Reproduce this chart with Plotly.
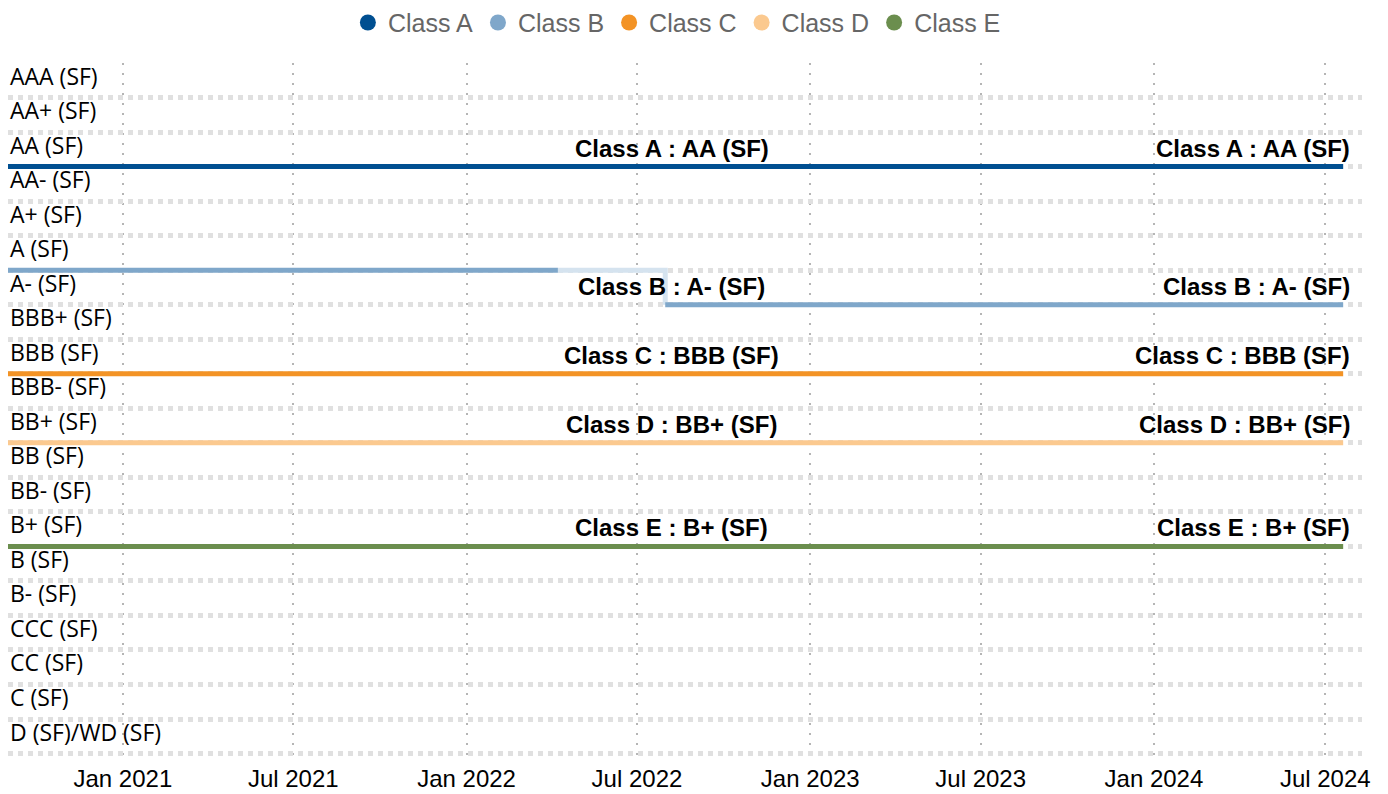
import plotly.graph_objects as go
import pandas as pd

# Rating scale (top to bottom)
ratings = ["AAA (SF)", "AA+ (SF)", "AA (SF)", "AA- (SF)", "A+ (SF)", "A (SF)", "A- (SF)",
           "BBB+ (SF)", "BBB (SF)", "BBB- (SF)", "BB+ (SF)", "BB (SF)", "BB- (SF)",
           "B+ (SF)", "B (SF)", "B- (SF)", "CCC (SF)", "CC (SF)", "C (SF)", "D (SF)/WD (SF)"]

classes = ["Class A", "Class B", "Class C", "Class D", "Class E"]
colors = ["#004f91", "#7fa7ca", "#f39325", "#fbc98f", "#6b8e4e"]

start_date = "2020-09-01"
end_date = "2024-07-20"

class_a_dates = [start_date, end_date]
class_a_ratings = ["AA (SF)", "AA (SF)"]

class_b_dates = [start_date, "2022-04-08", None, "2022-07-31", end_date]
class_b_ratings = ["A (SF)", "A (SF)", None, "A- (SF)", "A- (SF)"]

class_b_trans_dates = ["2022-04-08", "2022-07-31", "2022-07-31"]
class_b_trans_ratings = ["A (SF)", "A (SF)", "A- (SF)"]

class_c_dates = [start_date, end_date]
class_c_ratings = ["BBB (SF)", "BBB (SF)"]

class_d_dates = [start_date, end_date]
class_d_ratings = ["BB+ (SF)", "BB+ (SF)"]

class_e_dates = [start_date, end_date]
class_e_ratings = ["B+ (SF)", "B+ (SF)"]

current_ratings = ["AA (SF)", "A- (SF)", "BBB (SF)", "BB+ (SF)", "B+ (SF)"]

series = [
    (class_a_dates, class_a_ratings),
    (class_b_dates, class_b_ratings),
    (class_c_dates, class_c_ratings),
    (class_d_dates, class_d_ratings),
    (class_e_dates, class_e_ratings),
]

fig = go.Figure()

# legend entries (circle markers)
for name, col in zip(classes, colors):
    fig.add_trace(go.Scatter(x=[None], y=[None], mode="markers", name=name,
                             marker=dict(color=col, size=21), legendgroup=name,
                             showlegend=True))

# transition segment for Class B
fig.add_trace(go.Scatter(x=class_b_trans_dates, y=class_b_trans_ratings, mode="lines",
                         line=dict(color="#d5e3ef", width=5), showlegend=False,
                         hoverinfo="skip"))

for (d, r), name, col in zip(series, classes, colors):
    fig.add_trace(go.Scatter(x=d, y=r, mode="lines", name=name, legendgroup=name,
                             line=dict(color=col, width=5), showlegend=False))

mid_date = pd.Timestamp(start_date) + (pd.Timestamp(end_date) - pd.Timestamp(start_date)) / 2

annotations = []
# y-axis rating labels, drawn just above each rating level inside the plot
for rat in ratings:
    annotations.append(dict(x=0, xref="paper", y=rat, yref="y", text=rat, showarrow=False,
                            xanchor="left", yanchor="bottom", xshift=0, yshift=4,
                            font=dict(family="Open Sans", size=23, color="#000000")))

for name, rat in zip(classes, current_ratings):
    txt = f"<b>{name} : {rat}</b>"
    annotations.append(dict(x=mid_date, y=rat, text=txt, showarrow=False,
                            xanchor="center", yanchor="bottom", yshift=3, xshift=-4,
                            font=dict(family="Liberation Sans", size=24, color="#000000")))
    annotations.append(dict(x=end_date, y=rat, text=txt, showarrow=False,
                            xanchor="right", yanchor="bottom", yshift=3, xshift=9,
                            font=dict(family="Liberation Sans", size=24, color="#000000")))

fig.update_layout(
    width=1388, height=794,
    margin=dict(l=0, r=34, t=55, b=45, autoexpand=False),
    plot_bgcolor="white", paper_bgcolor="white",
    annotations=annotations,
    legend=dict(orientation="h", x=0.494, xanchor="center", y=1.058, yanchor="middle",
                font=dict(family="Liberation Sans", size=25, color="#666666"),
                itemwidth=30),
    xaxis=dict(type="date", range=["2020-09-01", "2024-08-09"], automargin=False,
               tick0="2021-01-01", dtick="M6", tickformat="%b %Y",
               showgrid=True, gridcolor="#b5b5b5", gridwidth=1.5, griddash="2px,8px",
               zeroline=False, showline=False, ticks="", ticklabelstandoff=5,
               tickfont=dict(family="Liberation Sans", size=24, color="#000000")),
    yaxis=dict(type="category", categoryorder="array", categoryarray=ratings,
               range=[19.1, -1.0], showgrid=True, gridcolor="#e0e0e0", gridwidth=5,
               griddash="5px,5px", zeroline=False, showline=False, ticks="",
               showticklabels=False, automargin=False),
)

fig.write_html("out.html")
